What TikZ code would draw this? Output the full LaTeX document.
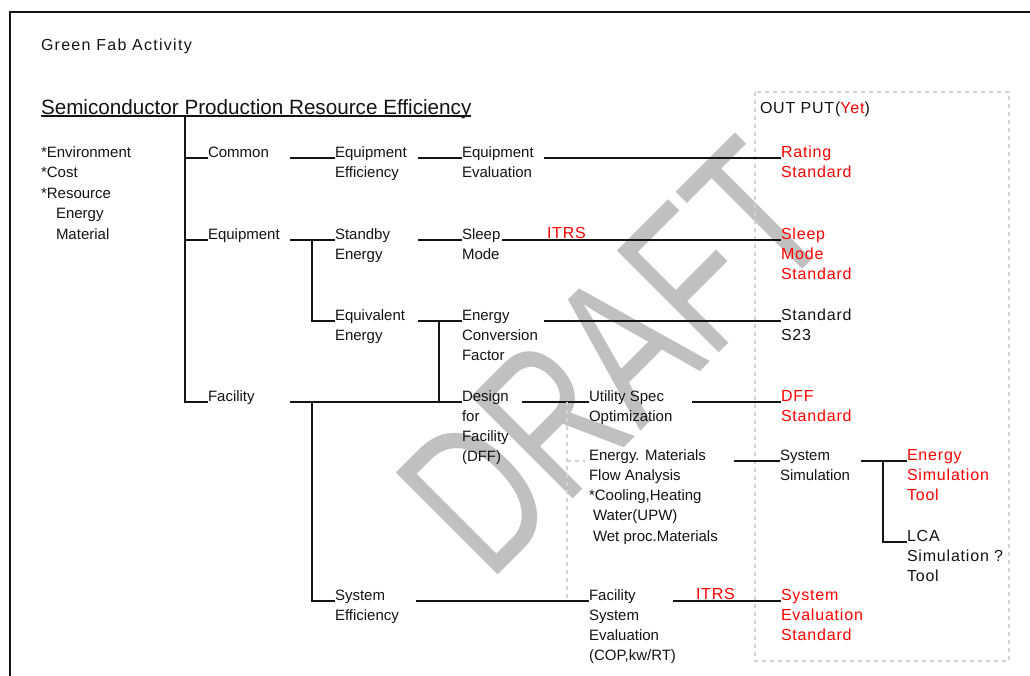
\documentclass[tikz,border=0pt]{standalone}
\usepackage{fontspec}
\setmainfont{Liberation Sans}
\newfontfamily\widefont[LetterSpace=5]{Liberation Sans}
\newfontfamily\titlefont[LetterSpace=8]{Liberation Sans}
\usetikzlibrary{calc}
\definecolor{wmgray}{RGB}{192,192,192}
\definecolor{outred}{RGB}{255,0,0}
\definecolor{ink}{RGB}{20,20,20}
\definecolor{boxgray}{RGB}{210,210,210}
% stacked lines whose baseline is that of the first line
\newcommand{\mlines}[1]{\begin{tabular}[t]{@{}l@{}}#1\end{tabular}}

\begin{document}
\begin{tikzpicture}[x=0.75pt,y=-0.75pt,
  every node/.style={inner sep=0pt, outer sep=0pt, anchor=base west, text=ink},
  plain/.style={font=\fontsize{11.25}{15.2}\selectfont},
  wide/.style={font=\widefont\fontsize{12}{15.2}\selectfont},
  redtext/.style={text=outred},
  link/.style={draw=ink, line width=1.1pt},
  thinlink/.style={draw=ink, line width=0.9pt},
  thicklink/.style={draw=ink, line width=1.9pt},
  guide/.style={draw=boxgray, line width=0.8pt, dash pattern=on 3pt off 3pt},
]
\useasboundingbox (0,0) rectangle (1030,675);
\clip (0,0) rectangle (1030,675);
\fill[white] (0,0) rectangle (1030,675);

% watermark
\node[font=\fontsize{157}{157}\selectfont, text=wmgray, rotate=45] (wm) at (489,583) {\scalebox{0.71}[1]{DRAFT}};

% page frame and output column
\draw[ink, line width=1.5pt] (10,12) rectangle (1045,690);
\draw[guide] (755,92) rectangle (1009,661);

% headings
\node[font=\titlefont\fontsize{12}{15.2}\selectfont] (gfa) at (41,50) {Green Fab Activity};
\node[font=\fontsize{15.5}{18}\selectfont] (head) at (41,114) {Semiconductor Production Resource Efficiency};
\draw[link] ($(head.base west)+(0,2)$) -- ($(head.base east)+(0,2)$);
\node[wide] (out) at (760,113) {OUT PUT(\textcolor{outred}{Yet})};

\node[font=\fontsize{11.25}{15.4}\selectfont] (crit) at (41,157)
  {\mlines{{*}Environment\\{*}Cost\\{*}Resource\\\hspace*{11.25pt}Energy\\\hspace*{11.25pt}Material}};

% row: common
\node[plain] (common) at (208,157) {Common};
\node[plain] (eqeff) at (335,157) {\mlines{Equipment\\Efficiency}};
\node[plain] (eqeval) at (462,157) {\mlines{Equipment\\Evaluation}};
\node[wide,redtext] (rating) at (781,157) {\mlines{Rating\\Standard}};

% row: equipment
\node[plain] (equip) at (208,239) {Equipment};
\node[plain] (standby) at (335,239) {\mlines{Standby\\Energy}};
\node[plain] (sleep) at (462,239) {\mlines{Sleep\\Mode}};
\node[wide,redtext] (itrsA) at (547,238) {ITRS};
\node[wide,redtext] (sleepstd) at (781,239) {\mlines{Sleep\\Mode\\Standard}};

% row: equivalent energy
\node[plain] (equiv) at (335,320) {\mlines{Equivalent\\Energy}};
\node[plain] (ecf) at (462,320) {\mlines{Energy\\Conversion\\Factor}};
\node[wide] (s23) at (781,320) {\mlines{Standard\\S23}};

% row: facility
\node[plain] (facility) at (208,401) {Facility};
\node[plain] (dff) at (462,401) {\mlines{Design\\for\\Facility\\(DFF)}};
\node[plain] (utility) at (589,401) {\mlines{Utility Spec\\Optimization}};
\node[wide,redtext] (dffstd) at (781,401) {\mlines{DFF\\Standard}};

% row: flow analysis
\node[plain] (emfa) at (589,460) {\mlines{Energy. Materials\\Flow Analysis\\{*}Cooling,Heating\\\hspace*{3pt}Water(UPW)\\\hspace*{3pt}Wet proc.Materials}};
\node[plain] (syssim) at (780,460) {\mlines{System\\Simulation}};
\node[wide,redtext] (estool) at (907,460) {\mlines{Energy\\Simulation\\Tool}};
\node[wide] (lca) at (907,541) {\mlines{LCA\\Simulation ?\\Tool}};

% row: system efficiency
\node[plain] (syseff) at (335,600) {\mlines{System\\Efficiency}};
\node[plain] (fse) at (589,600) {\mlines{Facility\\System\\Evaluation\\(COP,kw/RT)}};
\node[wide,redtext] (itrsB) at (696,599) {ITRS};
\node[wide,redtext] (sesstd) at (781,600) {\mlines{System\\Evaluation\\Standard}};

% connector anchor points
\coordinate (trunk) at (185,116);
\coordinate (a0) at (185,158); \coordinate (a1) at (290,158);
\coordinate (a2) at (418,158); \coordinate (a3) at (544,158);
\coordinate (b0) at (185,240); \coordinate (b1) at (290,240);
\coordinate (b2) at (418,240); \coordinate (b3) at (502,240);
\coordinate (b4) at (312,240);
\coordinate (c2) at (418,321); \coordinate (c3) at (544,321);
\coordinate (c4) at (312,321); \coordinate (c5) at (439,321);
\coordinate (d0) at (185,402); \coordinate (d1) at (290,402);
\coordinate (d2) at (312,402); \coordinate (d3) at (522,402);
\coordinate (d4) at (692,402); \coordinate (d5) at (439,402);
\coordinate (d6) at (567,402);
\coordinate (e1) at (734,461); \coordinate (e2) at (861,461);
\coordinate (e3) at (883,461); \coordinate (e6) at (567,461);
\coordinate (f3) at (883,542);
\coordinate (g1) at (416,601); \coordinate (g2) at (312,601);
\coordinate (g3) at (673,601); \coordinate (g6) at (567,601);

% main trunk
\draw[link] (trunk) -- (d0) -- (d0 -| facility.west);
\draw[link] (a0) -- (a0 -| common.west);
\draw[link] (b0) -- (b0 -| equip.west);

% common branch
\draw[thicklink] (a1) -- (a1 -| eqeff.west);
\draw[thicklink] (a2) -- (a2 -| eqeval.west);
\draw[thicklink] (a3) -- (a3 -| rating.west);

% equipment branch
\draw[link] (b1) -- (b1 -| standby.west);
\draw[link] (b2) -- (b2 -| sleep.west);
\draw[thinlink] (b3) -- (b3 -| sleepstd.west);
\draw[link] (b4) -- (c4) -- (c4 -| equiv.west);
\draw[link] (c2) -- (c2 -| ecf.west);
\draw[thinlink] (c3) -- (c3 -| s23.west);
\draw[link] (c5) -- (d5);

% facility branch
\draw[link] (d1) -- (d1 -| dff.west);
\draw[link] (d2) -- (g2) -- (g2 -| syseff.west);
\draw[link] (d3) -- (d3 -| utility.west);
\draw[link] (d4) -- (d4 -| dffstd.west);
\draw[guide] (d6) -- (g6);
\draw[guide] (e6) -- ($(e6 -| emfa.west)+(-4,0)$);
\draw[link] (e1) -- (e1 -| syssim.west);
\draw[thicklink] (e2) -- (e2 -| estool.west);
\draw[thicklink] (e3) -- (f3) -- (f3 -| lca.west);
\draw[thicklink] (g1) -- (g1 -| fse.west);
\draw[thicklink] (g3) -- (g3 -| sesstd.west);
\end{tikzpicture}
\end{document}
